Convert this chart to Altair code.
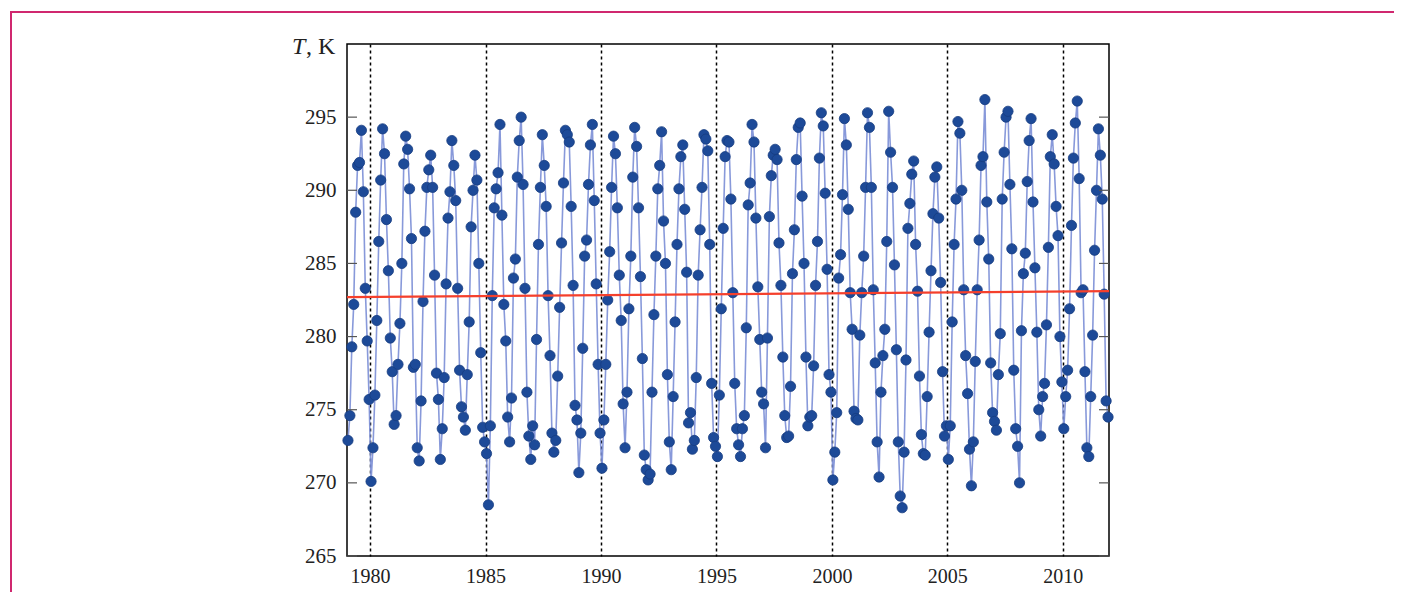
import altair as alt
import pandas as pd

# monthly temperature values (K), one list per year
y1979 = [272.9, 274.6, 279.3, 282.2, 288.5, 291.7, 291.9, 294.1, 289.9, 283.3, 279.7, 275.7]
y1980 = [270.1, 272.4, 276.0, 281.1, 286.5, 290.7, 294.2, 292.5, 288.0, 284.5, 279.9, 277.6]
y1981 = [274.0, 274.6, 278.1, 280.9, 285.0, 291.8, 293.7, 292.8, 290.1, 286.7, 277.9, 278.1]
y1982 = [272.4, 271.5, 275.6, 282.4, 287.2, 290.2, 291.4, 292.4, 290.2, 284.2, 277.5, 275.7]
y1983 = [271.6, 273.7, 277.2, 283.6, 288.1, 289.9, 293.4, 291.7, 289.3, 283.3, 277.7, 275.2]
y1984 = [274.5, 273.6, 277.4, 281.0, 287.5, 290.0, 292.4, 290.7, 285.0, 278.9, 273.8, 272.8]
y1985 = [272.0, 268.5, 273.9, 282.8, 288.8, 290.1, 291.2, 294.5, 288.3, 282.2, 279.7, 274.5]
y1986 = [272.8, 275.8, 284.0, 285.3, 290.9, 293.4, 295.0, 290.4, 283.3, 276.2, 273.2, 271.6]
y1987 = [273.9, 272.6, 279.8, 286.3, 290.2, 293.8, 291.7, 288.9, 282.8, 278.7, 273.4, 272.1]
y1988 = [272.9, 277.3, 282.0, 286.4, 290.5, 294.1, 293.8, 293.3, 288.9, 283.5, 275.3, 274.3]
y1989 = [270.7, 273.4, 279.2, 285.5, 286.6, 290.4, 293.1, 294.5, 289.3, 283.6, 278.1, 273.4]
y1990 = [271.0, 274.3, 278.1, 282.5, 285.8, 290.2, 293.7, 292.5, 288.8, 284.2, 281.1, 275.4]
y1991 = [272.4, 276.2, 281.9, 285.5, 290.9, 294.3, 293.0, 288.8, 284.1, 278.5, 271.9, 270.9]
y1992 = [270.2, 270.6, 276.2, 281.5, 285.5, 290.1, 291.7, 294.0, 287.9, 285.0, 277.4, 272.8]
y1993 = [270.9, 275.9, 281.0, 286.3, 290.1, 292.3, 293.1, 288.7, 284.4, 274.1, 274.8, 272.3]
y1994 = [272.9, 277.2, 284.2, 287.3, 290.2, 293.8, 293.5, 292.7, 286.3, 276.8, 273.1, 272.5]
y1995 = [271.8, 276.0, 281.9, 287.4, 292.3, 293.4, 293.3, 289.4, 283.0, 276.8, 273.7, 272.6]
y1996 = [271.8, 273.7, 274.6, 280.6, 289.0, 290.5, 294.5, 293.3, 288.1, 283.4, 279.8, 276.2]
y1997 = [275.4, 272.4, 279.9, 288.2, 291.0, 292.4, 292.8, 292.1, 286.4, 283.5, 278.6, 274.6]
y1998 = [273.1, 273.2, 276.6, 284.3, 287.3, 292.1, 294.3, 294.6, 289.6, 285.0, 278.6, 273.9]
y1999 = [274.5, 274.6, 278.0, 283.5, 286.5, 292.2, 295.3, 294.4, 289.8, 284.6, 277.4, 276.2]
y2000 = [270.2, 272.1, 274.8, 284.0, 285.6, 289.7, 294.9, 293.1, 288.7, 283.0, 280.5, 274.9]
y2001 = [274.4, 274.3, 280.1, 283.0, 285.5, 290.2, 295.3, 294.3, 290.2, 283.2, 278.2, 272.8]
y2002 = [270.4, 276.2, 278.7, 280.5, 286.5, 295.4, 292.6, 290.2, 284.9, 279.1, 272.8, 269.1]
y2003 = [268.3, 272.1, 278.4, 287.4, 289.1, 291.1, 292.0, 286.3, 283.1, 277.3, 273.3, 272.0]
y2004 = [271.9, 275.9, 280.3, 284.5, 288.4, 290.9, 291.6, 288.1, 283.7, 277.6, 273.2, 273.9]
y2005 = [271.6, 273.9, 281.0, 286.3, 289.4, 294.7, 293.9, 290.0, 283.2, 278.7, 276.1, 272.3]
y2006 = [269.8, 272.8, 278.3, 283.2, 286.6, 291.7, 292.3, 296.2, 289.2, 285.3, 278.2, 274.8]
y2007 = [274.2, 273.6, 277.4, 280.2, 289.4, 292.6, 295.0, 295.4, 290.4, 286.0, 277.7, 273.7]
y2008 = [272.5, 270.0, 280.4, 284.3, 285.7, 290.6, 293.4, 294.9, 289.2, 284.7, 280.3, 275.0]
y2009 = [273.2, 275.9, 276.8, 280.8, 286.1, 292.3, 293.8, 291.8, 288.9, 286.9, 280.0, 276.9]
y2010 = [273.7, 275.9, 277.7, 281.9, 287.6, 292.2, 294.6, 296.1, 290.8, 283.0, 283.2, 277.6]
y2011 = [272.4, 271.8, 275.9, 280.1, 285.9, 290.0, 294.2, 292.4, 289.4, 282.9, 275.6, 274.5]

years = list(range(1979, 2012))
series = [y1979, y1980, y1981, y1982, y1983, y1984, y1985, y1986, y1987, y1988,
          y1989, y1990, y1991, y1992, y1993, y1994, y1995, y1996, y1997, y1998,
          y1999, y2000, y2001, y2002, y2003, y2004, y2005, y2006, y2007, y2008,
          y2009, y2010, y2011]

trend_t = [1979, 2012]
trend_T = [282.7, 283.1]
grid_years = [1980, 1985, 1990, 1995, 2000, 2005, 2010]
y_ticks = [265, 270, 275, 280, 285, 290, 295]

rows = []
for yr, vals in zip(years, series):
    for m, v in enumerate(vals):
        rows.append({"t": yr + (m + 0.5) / 12.0, "T": v})
df = pd.DataFrame(rows)
trend_df = pd.DataFrame({"t": trend_t, "T": trend_T})
tick_df = pd.DataFrame({"T": y_ticks})

W, H = 762, 512
FONT = "Liberation Serif"
xs = alt.Scale(domain=[1979, 2012], nice=False, zero=False)
ys = alt.Scale(domain=[265, 300], nice=False, zero=False)

x_enc = alt.X("t:Q", scale=xs, axis=alt.Axis(
    values=grid_years, format="d", grid=True, gridDash=[3, 3], gridColor="black",
    gridWidth=1.5, gridOpacity=1, ticks=False, domain=False, labelFont=FONT,
    labelFontSize=20, labelColor="#222", labelPadding=10, title=None))
y_enc = alt.Y("T:Q", scale=ys, axis=alt.Axis(
    values=y_ticks, grid=False, ticks=False, domain=False, labelFont=FONT,
    labelFontSize=21, labelColor="#222", labelPadding=11, title=None))

line = alt.Chart(df).mark_line(color="#7b8ed6", strokeWidth=1.6, opacity=0.9).encode(x=x_enc, y=y_enc)
points = alt.Chart(df).mark_point(
    filled=True, shape="circle", size=105, color="#1d4a98", opacity=1,
    stroke="#163c80", strokeWidth=0.8
).encode(x="t:Q", y="T:Q")
trend = alt.Chart(trend_df).mark_line(color="#f5402c", strokeWidth=2.2).encode(x="t:Q", y="T:Q")

lticks = alt.Chart(tick_df).mark_rule(color="#555", strokeWidth=1.2).encode(
    y="T:Q", x=alt.value(0), x2=alt.value(10))
rticks = alt.Chart(tick_df).mark_rule(color="#555", strokeWidth=1.2).encode(
    y="T:Q", x=alt.value(W - 10), x2=alt.value(W))

t_lab = alt.Chart(pd.DataFrame({"s": ["T"]})).mark_text(
    font=FONT, fontSize=24, fontStyle="italic", align="left", baseline="alphabetic", color="#222"
).encode(text="s:N", x=alt.value(-55), y=alt.value(10))
k_lab = alt.Chart(pd.DataFrame({"s": [", K"]})).mark_text(
    font=FONT, fontSize=24, align="left", baseline="alphabetic", color="#222"
).encode(text="s:N", x=alt.value(-41), y=alt.value(10))

frame = alt.Chart(pd.DataFrame({"s": [0]})).mark_rect(
    filled=False, stroke="#d0286f", strokeWidth=2
).encode(x=alt.value(-336), x2=alt.value(1048), y=alt.value(-32), y2=alt.value(640))

chart = alt.layer(line, points, trend, lticks, rticks, t_lab, k_lab, frame).properties(
    width=W, height=H,
    autosize=alt.AutoSizeParams(type="none"),
    padding={"left": 339, "top": 36, "right": 285, "bottom": 60},
).configure_view(stroke="black", strokeWidth=1.5)

chart.save("out.html", embed_options={"renderer": "svg", "actions": False})
